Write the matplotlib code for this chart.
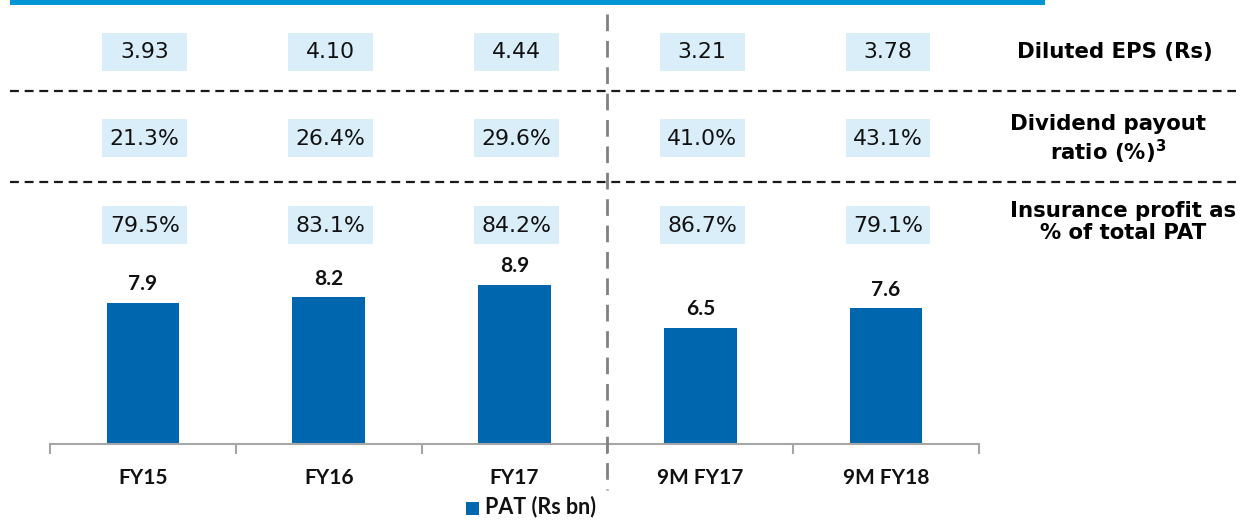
import matplotlib
matplotlib.use("Agg")
import matplotlib.pyplot as plt
import matplotlib.transforms as mtransforms
from matplotlib.patches import Rectangle

categories = ["FY15", "FY16", "FY17", "9M FY17", "9M FY18"]
pat = [7.9, 8.2, 8.9, 6.5, 7.6]
eps = ["3.93", "4.10", "4.44", "3.21", "3.78"]
payout = ["21.3%", "26.4%", "29.6%", "41.0%", "43.1%"]
insurance = ["79.5%", "83.1%", "84.2%", "86.7%", "79.1%"]
row_labels = ["Diluted EPS (Rs)", "Dividend payout\nratio (%)$^{\\mathbf{3}}$",
              "Insurance profit as\n% of total PAT"]
legend_label = "PAT (Rs bn)"

W, H = 1242, 520
fig = plt.figure(figsize=(W / 100, H / 100), dpi=100)

BAR_BLUE = "#0066AD"
BOX_BLUE = "#DAEEFA"
TOP_BLUE = "#0096D6"
AXIS_GRAY = "#A6A6A6"
lab_font = ["Lato", "DejaVu Sans"]

# bar axes: x from 50 to 979 px, baseline at y=444 px
ax_left, ax_right = 50, 979
base_y, top_y = 444, 244
ax = fig.add_axes([ax_left / W, (H - base_y) / H, (ax_right - ax_left) / W, (base_y - top_y) / H])
x = list(range(len(categories)))
ax.bar(x, pat, width=0.39, color=BAR_BLUE, zorder=2)
ax.set_xlim(-0.5, len(categories) - 0.5)
ax.set_ylim(0, (base_y - top_y) / 17.9)
for s in ["top", "right", "left"]:
    ax.spines[s].set_visible(False)
ax.spines["bottom"].set_color(AXIS_GRAY)
ax.spines["bottom"].set_linewidth(1.5)
ax.set_yticks([])
ax.set_xticks(x)
ax.set_xticklabels(categories, fontsize=15, fontweight="bold", family=lab_font, color="#111111")
ax.tick_params(axis="x", which="major", length=0, pad=17.5)
ax.set_xticks([i - 0.5 for i in range(len(categories) + 1)], minor=True)
ax.tick_params(axis="x", which="minor", length=7, width=1.5, color=AXIS_GRAY)
for xi, v in zip(x, pat):
    ax.annotate(f"{v:.1f}", (xi, v), xytext=(0, 6), textcoords="offset points",
                ha="center", va="bottom", fontsize=15, fontweight="bold",
                family=lab_font, color="#111111")

# overlay axes in pixel coordinates
ov = fig.add_axes([0, 0, 1, 1], zorder=-1)
ov.set_xlim(0, W)
ov.set_ylim(H, 0)
ov.axis("off")
ov2 = fig.add_axes([0, 0, 1, 1], zorder=5)
ov2.set_xlim(0, W)
ov2.set_ylim(H, 0)
ov2.axis("off")

# top blue band
ov.add_patch(Rectangle((10, 0), 1035, 5, color=TOP_BLUE, lw=0))

# dashed separators
for yy in [91, 182]:
    ov.plot([10, 1236], [yy, yy], color="#1a1a1a", lw=1.6, ls=(0, (4, 2.6)))

blend = mtransforms.blended_transform_factory(ax.transData, ov2.transData)
ov2.plot([2.5, 2.5], [14, 490], color="#808080", lw=2, ls=(0, (6, 3.5)),
         transform=blend, clip_on=False)

# table boxes
box_w = 85 / 186.0
box_h = 38
row_centers = [51.5, 138, 225]
for rc, vals in zip(row_centers, [eps, payout, insurance]):
    for xi, t in zip(x, vals):
        ov2.add_patch(Rectangle((xi - box_w / 2 + 0.01, rc - box_h / 2), box_w, box_h,
                                color=BOX_BLUE, lw=0, transform=blend, clip_on=False))
        ov2.text(xi + 0.01, rc + 1, t, transform=blend, ha="center", va="center",
                 fontsize=15.8, family="DejaVu Sans", color="#111111")

# row headers
hdr_x = [1115, 1108, 1123]
hdr_y = [52, 140, 222]
for hx, hy, t in zip(hdr_x, hdr_y, row_labels):
    ov2.text(hx, hy, t, ha="center", va="center", fontsize=15.3, fontweight="bold",
             family="DejaVu Sans", color="#000000", linespacing=1.15)

# legend
ov2.add_patch(Rectangle((466, 502), 13, 13, color=BAR_BLUE, lw=0))
ov2.text(485, 507, legend_label, ha="left", va="center", fontsize=15.5, fontweight="bold",
         family=lab_font, color="#111111")

fig.savefig("out.png", dpi=100)
